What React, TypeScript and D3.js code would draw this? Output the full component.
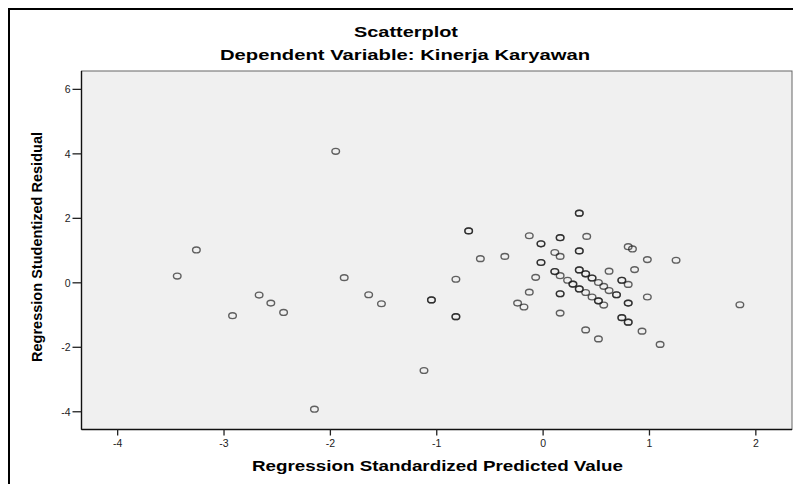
import React from 'react';
import * as d3 from 'd3';

// Regression Standardized Predicted Value (x) and Studentized Residual (y).
// Points drawn with a heavier ring in the source are listed twice (overlapping cases).
const predicted = [
  -3.26, -3.44, -2.92, -2.67, -2.56, -2.44, -2.15, -1.95, -1.87, -1.64, -1.52, -1.12,
  -1.05, -1.05, -0.82, -0.82, -0.82, -0.70, -0.70, -0.59, -0.36, -0.24, -0.18, -0.13,
  -0.13, -0.07, -0.02, -0.02, -0.02, -0.02, 0.11, 0.11, 0.11, 0.16, 0.16, 0.16, 0.16,
  0.16, 0.16, 0.16, 0.23, 0.28, 0.28, 0.34, 0.34, 0.34, 0.34, 0.34, 0.34, 0.34, 0.34,
  0.40, 0.40, 0.40, 0.40, 0.41, 0.46, 0.46, 0.46, 0.52, 0.52, 0.52, 0.52, 0.57, 0.57,
  0.62, 0.62, 0.69, 0.69, 0.74, 0.74, 0.74, 0.74, 0.80, 0.80, 0.80, 0.80, 0.80, 0.80,
  0.84, 0.86, 0.93, 0.98, 0.98, 1.10, 1.25, 1.85,
];
const residual = [
  1.02, 0.21, -1.02, -0.38, -0.63, -0.92, -3.92, 4.08, 0.16, -0.37, -0.65, -2.72,
  -0.53, -0.53, 0.11, -1.05, -1.05, 1.61, 1.61, 0.75, 0.82, -0.63, -0.75, 1.46,
  -0.29, 0.17, 1.21, 1.21, 0.63, 0.63, 0.94, 0.35, 0.35, 1.40, 1.40, 0.82, 0.22,
  -0.34, -0.34, -0.94, 0.08, -0.04, -0.04, 2.16, 2.16, 0.99, 0.99, 0.40, 0.40, -0.19, -0.19,
  0.28, 0.28, -0.30, -1.46, 1.44, 0.15, 0.15, -0.44, 0.01, -0.56, -0.56, -1.74, -0.11, -0.69,
  0.36, -0.24, -0.37, -0.37, 0.08, 0.08, -1.08, -1.08, 1.12, -0.05, -0.63, -0.63, -1.22, -1.22,
  1.05, 0.41, -1.50, 0.72, -0.44, -1.91, 0.70, -0.68,
];

const xTicks = [-4, -3, -2, -1, 0, 1, 2];
const yTicks = [-4, -2, 0, 2, 4, 6];

const title = 'Scatterplot';
const subtitle = 'Dependent Variable: Kinerja Karyawan';
const xLabel = 'Regression Standardized Predicted Value';
const yLabel = 'Regression Studentized Residual';

const W = 793;
const H = 484;
const plot = { left: 81.5, right: 792, top: 71, bottom: 429.5 };
const font = 'Arial, "Liberation Sans", sans-serif';

const App = () => {
  const x = d3.scaleLinear().domain([-4.34, 2.34]).range([plot.left, plot.right]);
  const y = d3.scaleLinear().domain([-4.55, 6.57]).range([plot.bottom, plot.top]);
  const points = predicted.map((p, i) => ({ p, r: residual[i] }));

  return (
    <div style={{ position: 'fixed', left: 0, top: 0, background: '#fff' }}>
      <svg width={W} height={H} style={{ display: 'block' }} fontFamily={font}>
        <rect x={0} y={0} width={W} height={H} fill="#fff" />
        {/* outer chart frame, cut off on the right and bottom */}
        <rect x={9} y={9} width={W + 20} height={H + 20} fill="none" stroke="#000" strokeWidth={2} />

        <text x={406} y={36.5} textAnchor="middle" fontSize={15} fontWeight="bold"
          textLength={104} lengthAdjust="spacingAndGlyphs">{title}</text>
        <text x={405} y={59.5} textAnchor="middle" fontSize={15} fontWeight="bold"
          textLength={370} lengthAdjust="spacingAndGlyphs">{subtitle}</text>

        <rect x={plot.left} y={plot.top} width={plot.right - plot.left} height={plot.bottom - plot.top}
          fill="#f0f0f0" stroke="#666" strokeWidth={1} />
        <line x1={plot.left} x2={plot.left} y1={plot.top} y2={plot.bottom} stroke="#111" strokeWidth={1.4} />
        <line x1={plot.left} x2={plot.right} y1={plot.bottom} y2={plot.bottom} stroke="#111" strokeWidth={1.4} />

        {yTicks.map(t => (
          <g key={'y' + t}>
            <line x1={plot.left - 9} x2={plot.left} y1={y(t)} y2={y(t)} stroke="#222" strokeWidth={1.3} />
            <text x={70.5} y={y(t) + 3.8} textAnchor="end" fontSize={10.5} fill="#222">{t}</text>
          </g>
        ))}
        {xTicks.map(t => (
          <g key={'x' + t}>
            <line x1={x(t)} x2={x(t)} y1={plot.bottom} y2={plot.bottom + 6} stroke="#222" strokeWidth={1.3} />
            <text x={x(t)} y={446.5} textAnchor="middle" fontSize={10.5} fill="#222">{t}</text>
          </g>
        ))}

        {points.map((d, i) => (
          <ellipse key={i} cx={x(d.p)} cy={y(d.r)} rx={3.8} ry={2.9}
            fill="none" stroke="#1a1a1a" strokeOpacity={0.68} strokeWidth={1.4} />
        ))}

        <text x={437.5} y={470.5} textAnchor="middle" fontSize={15} fontWeight="bold"
          textLength={371} lengthAdjust="spacingAndGlyphs">{xLabel}</text>
        <text transform="translate(41.5,247) rotate(-90)" textAnchor="middle" fontSize={14} fontWeight="bold"
          textLength={230} lengthAdjust="spacingAndGlyphs">{yLabel}</text>
      </svg>
    </div>
  );
};

export default App;
